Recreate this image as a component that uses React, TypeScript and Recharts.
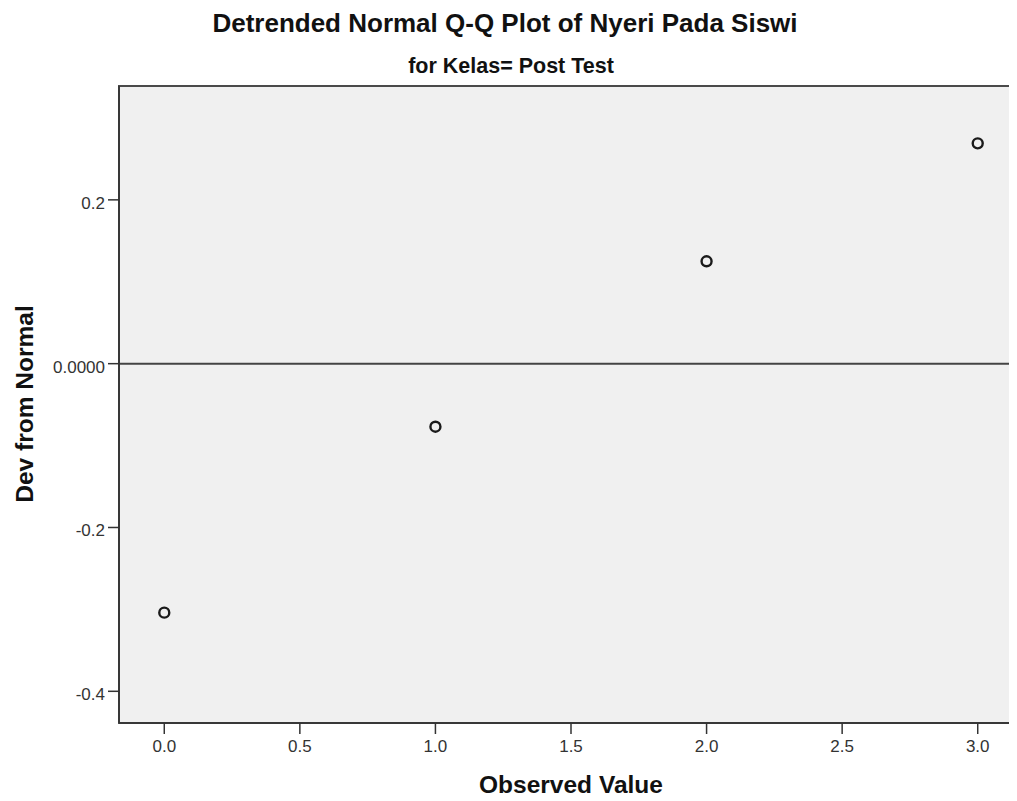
import React from 'react';
import {
  ScatterChart,
  Scatter,
  XAxis,
  YAxis,
  ReferenceLine,
  ReferenceArea,
} from 'recharts';

// observed values and their deviation from normal
const observed = [0, 1, 2, 3];
const deviation = [-0.304, -0.077, 0.125, 0.269];

const xTicks = [0, 0.5, 1, 1.5, 2, 2.5, 3];
const yTicks = [-0.4, -0.2, 0, 0.2];

const xDomain: [number, number] = [-0.167, 3.167];
const yDomain: [number, number] = [-0.4387, 0.339];

const title = 'Detrended Normal Q-Q Plot of Nyeri Pada Siswi';
const subtitle = 'for Kelas= Post Test';
const xTitle = 'Observed Value';
const yTitle = 'Dev from Normal';

const points = observed.map((x, i) => ({ x, y: deviation[i] }));

const font = 'Arial, "Liberation Sans", sans-serif';

const Ring = (props: any) => {
  const { cx, cy } = props;
  return <circle cx={cx} cy={cy} r={5} fill="none" stroke="#1a1a1a" strokeWidth={2.4} />;
};

const XTick = (props: any) => {
  const { x, y, payload } = props;
  return (
    <text x={x} y={y + 12} textAnchor="middle" fontSize={17} fontFamily={font} fill="#333">
      {payload.value.toFixed(1)}
    </text>
  );
};

const YTick = (props: any) => {
  const { x, y, payload } = props;
  const v = payload.value;
  return (
    <text x={x} y={y + 9} textAnchor="end" fontSize={17} fontFamily={font} fill="#333">
      {v === 0 ? '0.0000' : v.toFixed(1)}
    </text>
  );
};

export default function App() {
  return (
    <div style={{ position: 'relative', width: 1009, height: 793, overflow: 'hidden' }}>
      <ScatterChart
        width={1040}
        height={793}
        margin={{ top: 78, right: 25, left: 51, bottom: 48 }}
        style={{ position: 'absolute', left: 0, top: 0 }}
      >
        <ReferenceArea
          x1={xDomain[0]}
          x2={xDomain[1]}
          y1={yDomain[0]}
          y2={yDomain[1]}
          fill="#f0f0f0"
          fillOpacity={1}
          stroke="#4a4a4a"
          strokeWidth={2}
        />
        <XAxis
          type="number"
          dataKey="x"
          domain={xDomain}
          ticks={xTicks}
          allowDataOverflow
          height={30}
          tick={<XTick />}
          tickSize={11}
          tickMargin={6}
          axisLine={{ stroke: '#333', strokeWidth: 1.5 }}
          tickLine={{ stroke: '#333', strokeWidth: 1.5 }}
        />
        <YAxis
          type="number"
          dataKey="y"
          domain={yDomain}
          ticks={yTicks}
          allowDataOverflow
          width={60}
          tick={<YTick />}
          tickSize={11}
          tickMargin={3}
          axisLine={{ stroke: '#333', strokeWidth: 1.5 }}
          tickLine={{ stroke: '#333', strokeWidth: 1.5 }}
        />
        <ReferenceLine y={0} stroke="#444" strokeWidth={2} />
        <Scatter data={points} shape={<Ring />} isAnimationActive={false} />
      </ScatterChart>
      <svg
        width={1009}
        height={793}
        style={{ position: 'absolute', left: 0, top: 0, pointerEvents: 'none' }}
        fontFamily={font}
        fontWeight="bold"
        fill="#111"
      >
        <text x={497} y={24} textAnchor="middle" fontSize={26}>
          {title}
        </text>
        <text x={503} y={65} textAnchor="middle" fontSize={21.5}>
          {subtitle}
        </text>
        <text transform="translate(25,396) rotate(-90)" textAnchor="middle" fontSize={24.5}>
          {yTitle}
        </text>
        <text x={563} y={785} textAnchor="middle" fontSize={24.5}>
          {xTitle}
        </text>
      </svg>
    </div>
  );
}
